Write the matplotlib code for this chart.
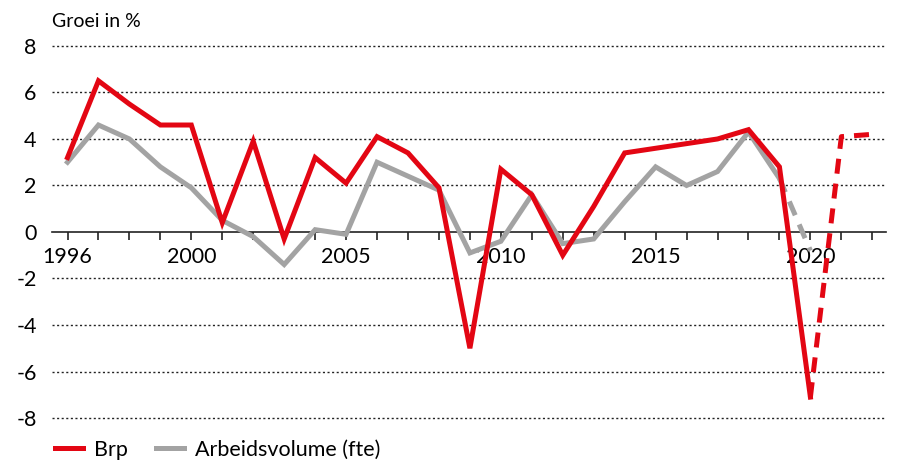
import matplotlib.pyplot as plt
from matplotlib.lines import Line2D

plt.rcParams['font.family'] = ['Lato', 'DejaVu Sans']

# data
years = list(range(1996, 2021))
brp = [3.2, 6.5, 5.5, 4.6, 4.6, 0.4, 3.9, -0.3, 3.2, 2.1, 4.1, 3.4, 1.9,
       -5.0, 2.7, 1.6, -1.0, 1.1, 3.4, 3.6, 3.8, 4.0, 4.4, 2.8, -7.1]
arbeid_years = list(range(1996, 2020))
arbeid = [3.0, 4.6, 4.0, 2.8, 1.9, 0.5, -0.2, -1.4, 0.1, -0.1, 3.0, 2.4, 1.8,
          -0.9, -0.4, 1.6, -0.5, -0.3, 1.3, 2.8, 2.0, 2.6, 4.3, 2.3]
# forecasts (dashed)
brp_fc_years = [2020, 2021, 2022]
brp_fc = [-7.1, 4.1, 4.2]
arbeid_fc_years = [2019, 2020]
arbeid_fc = [2.3, -0.8]

label_years = [1996, 2000, 2005, 2010, 2015, 2020]
yticks = [-8, -6, -4, -2, 0, 2, 4, 6, 8]

red = '#e30613'
grey = '#a3a3a3'
lw = 3.6

fig = plt.figure(figsize=(8.97, 4.72), dpi=100)
ax = fig.add_axes([0.058, 0.1045, 0.930, 0.808])

ax.plot(arbeid_years, arbeid, color=grey, lw=lw, solid_joinstyle='miter', zorder=3)
ax.plot(arbeid_fc_years, arbeid_fc, color=grey, lw=lw, dashes=(3, 2), zorder=3)
ax.plot(years, brp, color=red, lw=lw, solid_joinstyle='miter', zorder=4)
ax.plot(brp_fc_years, brp_fc, color=red, lw=lw, dashes=(3, 2), zorder=4)

ax.set_xlim(1995.5, 2022.45)
ax.set_ylim(-8.2, 8.2)

# dotted gridlines, solid zero line
for v in yticks:
    if v == 0:
        continue
    ax.axhline(v, color='#222222', lw=1.0, dashes=(1.5, 1.8), zorder=1)

for s in ['top', 'right', 'left']:
    ax.spines[s].set_visible(False)
ax.spines['bottom'].set_position(('data', 0))
ax.spines['bottom'].set_color('#222222')
ax.spines['bottom'].set_linewidth(1.2)
ax.spines['bottom'].set_zorder(2)

all_years = list(range(1996, 2023))
ax.set_xticks(all_years)
ax.set_xticklabels([str(y) if y in label_years else '' for y in all_years])
ax.tick_params(axis='x', direction='out', length=6, width=1.2, color='#222222',
               labelsize=15.5, pad=5)
ax.set_yticks(yticks)
ax.set_yticklabels([str(v) for v in yticks])
ax.tick_params(axis='y', length=0, labelsize=15.5, pad=11)

fig.text(0.058, 0.955, 'Groei in %', fontsize=14, ha='left', va='center')

handles = [Line2D([], [], color=red, lw=lw),
           Line2D([], [], color=grey, lw=lw)]
fig.legend(handles, ['Brp', 'Arbeidsvolume (fte)'], loc='lower left',
           bbox_to_anchor=(0.04, -0.015), ncol=2, frameon=False, fontsize=15.5,
           handlelength=1.3, columnspacing=1.3, handletextpad=0.5)

fig.savefig('out.png', dpi=100)
